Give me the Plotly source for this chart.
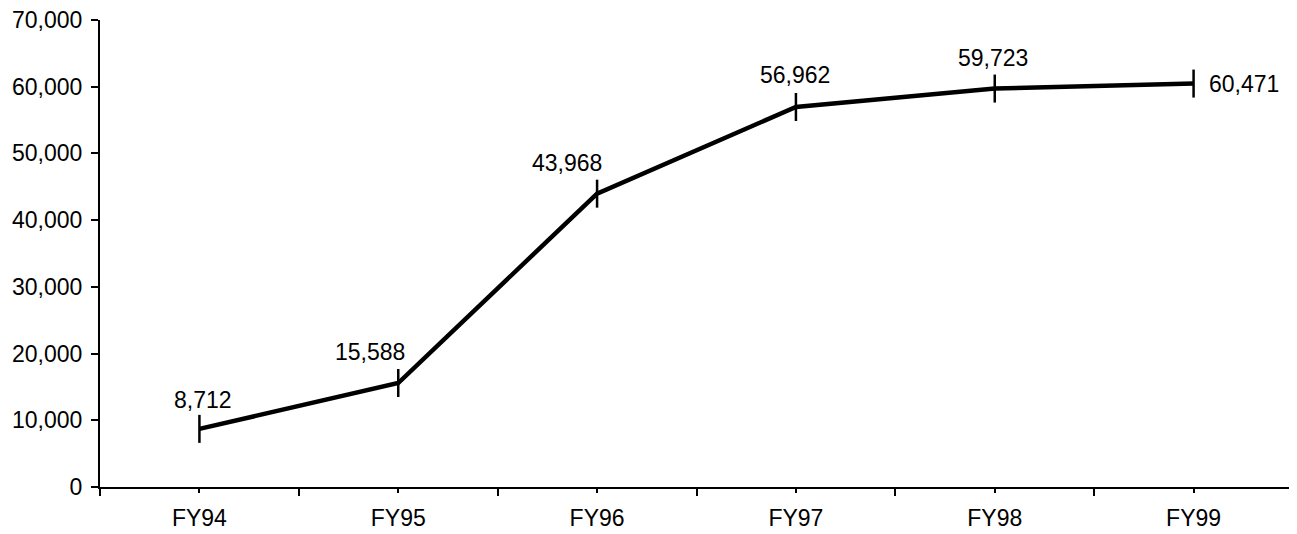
import plotly.graph_objects as go

categories = ["FY94", "FY95", "FY96", "FY97", "FY98", "FY99"]
values = [8712, 15588, 43968, 56962, 59723, 60471]
labels = ["8,712", "15,588", "43,968", "56,962", "59,723", "60,471"]
label_xshift = [4, -28, -30, -1, -2, 50]
label_yshift = [29, 31, 31, 32, 31, 0]

fig = go.Figure()
# invisible helper trace so the overlaid axis with centre tick marks is drawn
fig.add_trace(go.Scatter(
    x=list(range(len(categories))), y=values, xaxis="x2", yaxis="y",
    mode="lines", line=dict(width=0, color="rgba(0,0,0,0)"), opacity=0,
    hoverinfo="skip", showlegend=False,
))
fig.add_trace(go.Scatter(
    x=categories, y=values, mode="lines+markers",
    line=dict(color="black", width=4.5),
    marker=dict(symbol="line-ns", size=20, line=dict(color="black", width=2.5), color="black"),
    hoverinfo="skip",
))
for c, v, t, dx, dy in zip(categories, values, labels, label_xshift, label_yshift):
    fig.add_annotation(x=c, y=v, xref="x", yref="y", text=t, showarrow=False,
                       xshift=dx, yshift=dy, font=dict(size=23, color="black"))

fig.update_layout(
    width=1289, height=526,
    margin=dict(l=92, r=4, t=12, b=47),
    paper_bgcolor="white", plot_bgcolor="white",
    font=dict(family="Liberation Sans, Arial, sans-serif", size=23, color="black"),
    showlegend=False,
    xaxis=dict(
        type="category", range=[-0.5, len(categories) - 0.5], showgrid=False, automargin=False,
        showline=True, linecolor="black", linewidth=2,
        ticks="outside", tickson="boundaries", ticklen=7, tickwidth=1.5, tickcolor="black",
        ticklabelstandoff=9, ticklabeloverflow="allow",
    ),
    xaxis2=dict(
        type="linear", overlaying="x", anchor="y", side="bottom",
        range=[-0.5, len(categories) - 0.5],
        tickvals=list(range(len(categories))), showticklabels=False, showgrid=False,
        zeroline=False, showline=False, ticks="outside", ticklen=5, tickwidth=1.5,
        tickcolor="black", automargin=False,
    ),
    yaxis=dict(
        range=[0, 70000], dtick=10000, tickformat=",d", showgrid=False, zeroline=False,
        automargin=False,
        showline=True, linecolor="black", linewidth=2,
        ticks="outside", ticklen=7, tickwidth=1.5, tickcolor="black",
        ticklabelstandoff=4, ticklabeloverflow="allow",
    ),
)
fig.write_html("out.html")
